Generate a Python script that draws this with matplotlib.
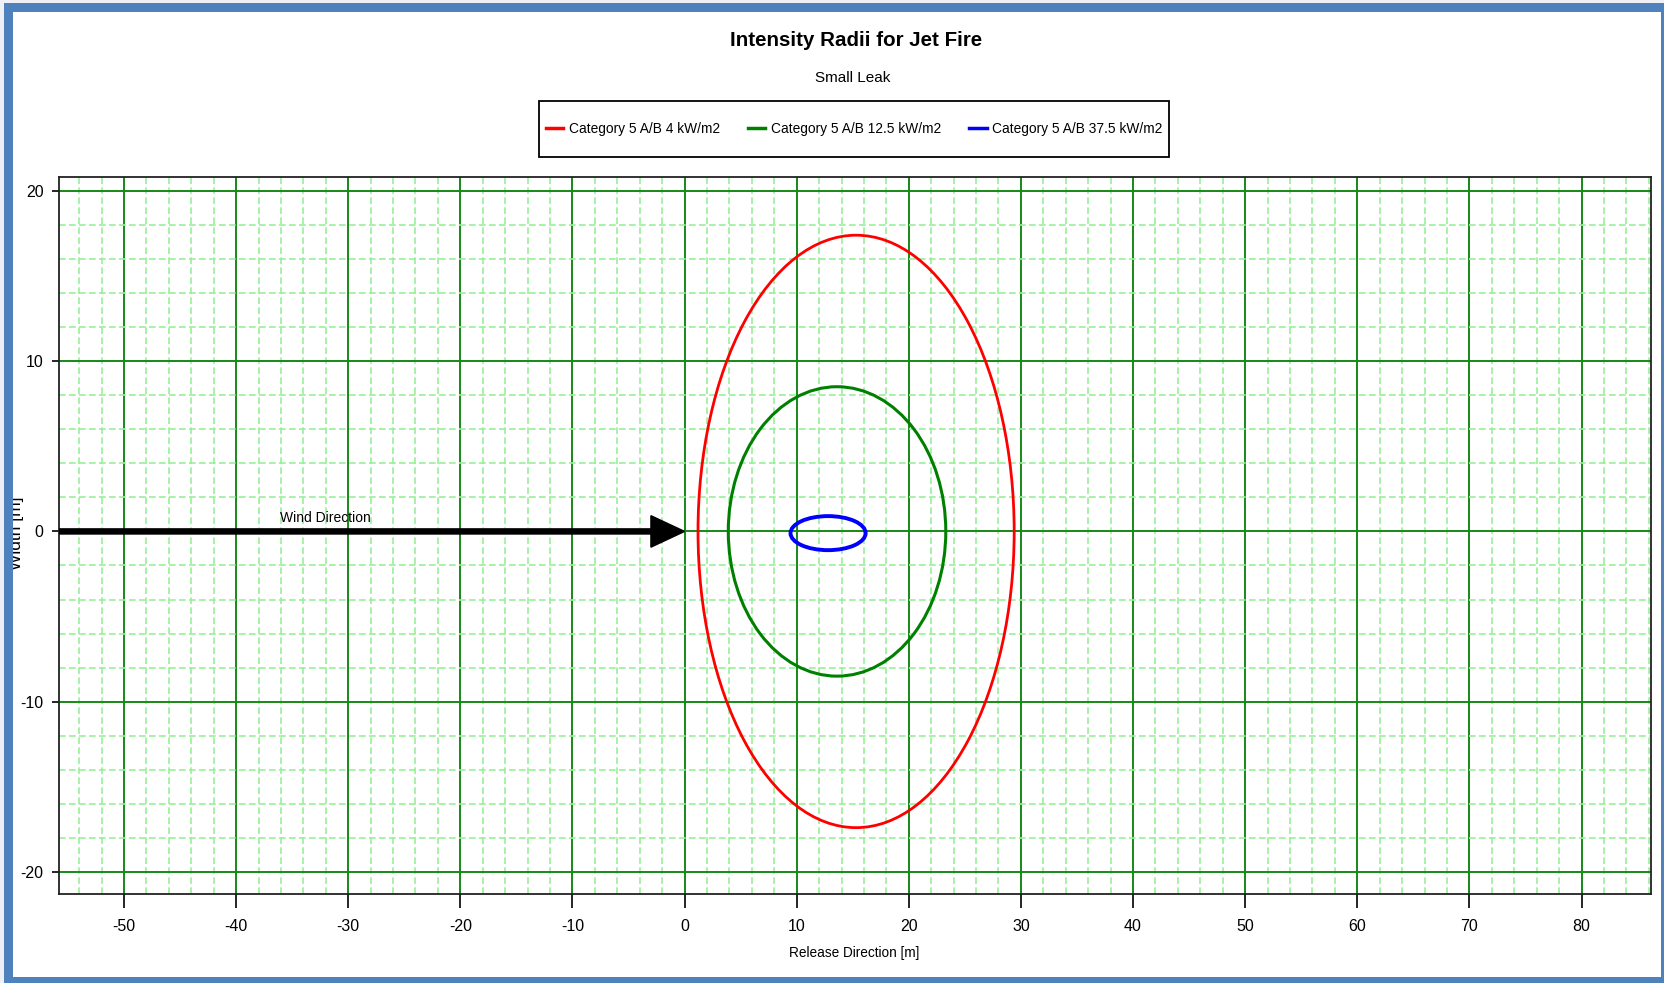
import matplotlib
matplotlib.use('Agg')
import matplotlib.pyplot as plt
import matplotlib.ticker as ticker
from matplotlib.patches import Ellipse, Rectangle
from matplotlib.lines import Line2D

plt.rcParams['font.family'] = ['Liberation Sans', 'DejaVu Sans']
plt.rcParams['axes.unicode_minus'] = False

# jet fire intensity contours
labels = ['Category 5 A/B 4 kW/m2', 'Category 5 A/B 12.5 kW/m2', 'Category 5 A/B 37.5 kW/m2']
colors = ['#ff0000', '#008000', '#0000ff']
center_x = [15.3, 13.6, 12.8]
center_y = [0.0, 0.0, -0.1]
width_x = [28.2, 19.4, 6.7]     # full extent along release direction
height_y = [34.8, 17.0, 2.0]    # full extent across
line_widths = [2.0, 2.2, 2.8]

wind_start, wind_end = -57, 0
x_lim = (-55.8, 86.2)
y_lim = (-21.3, 20.8)

fig = plt.figure(figsize=(16.65, 9.83), dpi=100)
ax = fig.add_axes([0.0354, 0.0905, 0.9562, 0.7291])

for cx, cy, w, h, c, lw in zip(center_x, center_y, width_x, height_y, colors, line_widths):
    ax.add_patch(Ellipse((cx, cy), w, h, fill=False, edgecolor=c, linewidth=lw, zorder=4))

# wind direction arrow
ax.arrow(wind_start, 0, wind_end - wind_start, 0, width=0.3, head_width=1.85,
         head_length=3.0, length_includes_head=True, color='black', zorder=5)
ax.text(-36.05, 0.8, 'Wind Direction', fontsize=10, ha='left', va='center', zorder=6)

ax.set_xlim(*x_lim)
ax.set_ylim(*y_lim)
ax.xaxis.set_major_locator(ticker.MultipleLocator(10))
ax.yaxis.set_major_locator(ticker.MultipleLocator(10))
ax.xaxis.set_minor_locator(ticker.MultipleLocator(2))
ax.yaxis.set_minor_locator(ticker.MultipleLocator(2))
ax.grid(which='minor', color='#98f098', linestyle=(0, (4, 2)), linewidth=1.2)
ax.grid(which='major', color='#168a16', linestyle='-', linewidth=1.4)
ax.set_axisbelow(True)

ax.tick_params(axis='x', which='major', length=10, width=1.2, pad=8, labelsize=11.5)
ax.tick_params(axis='y', which='major', length=5, width=1.2, pad=6, labelsize=11.5)
ax.tick_params(which='minor', length=0)
for s in ax.spines.values():
    s.set_color('#222222')
    s.set_linewidth(1.3)

fig.text(0.513, 0.0305, 'Release Direction [m]', fontsize=9.8, ha='center', va='center')
fig.text(0.0098, 0.458, 'Width [m]', fontsize=12.5, rotation=90, ha='center', va='center')
fig.text(0.514, 0.9588, 'Intensity Radii for Jet Fire', fontsize=14.8, fontweight='bold',
         ha='center', va='center')
fig.text(0.512, 0.9203, 'Small Leak', fontsize=11, ha='center', va='center')

# legend: box drawn separately so it can be taller than the text padding allows
fig.patches.append(Rectangle((0.3237, 0.8403), 0.3784, 0.057, transform=fig.transFigure,
                             facecolor='white', edgecolor='black', linewidth=1.3, zorder=2))
handles = [Line2D([], [], color=c, linewidth=2.5) for c in colors]
leg = fig.legend(handles, labels, loc='center', bbox_to_anchor=(0.5129, 0.8688), ncol=3,
                 fontsize=9.9, frameon=False, handlelength=1.3, handletextpad=0.4,
                 columnspacing=2.0, borderpad=0.3)
leg.set_zorder(3)

# window border
W, H = 1665, 983
border = [
    (0, 0, 4, H, '#eef0f5'),
    (4, 0, 9, H - 3, '#4f81bd'),
    (0, H - 3, W, 3, '#eef0f5'),
    (4, H - 12, W - 4, 9, '#4f81bd'),
    (W - 4, 0, 4, H - 3, '#4f81bd'),
    (4, 0, W - 4, 6, '#4f81bd'),
]
for x0, y0, w, h, c in border:
    fig.patches.append(Rectangle((x0 / W, y0 / H), w / W, h / H, transform=fig.transFigure,
                                 facecolor=c, edgecolor='none', zorder=10))

fig.savefig('out.png', dpi=100)
